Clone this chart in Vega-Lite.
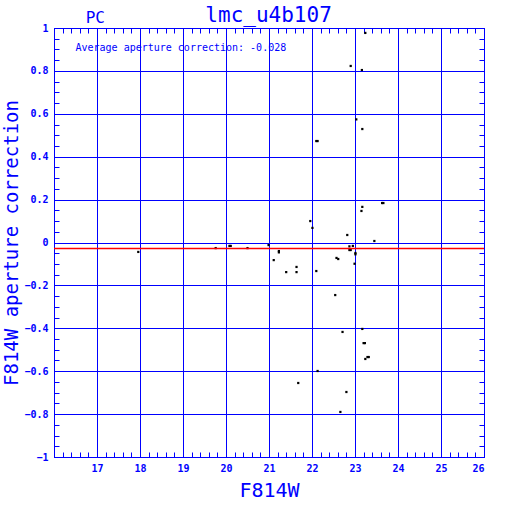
{
  "$schema": "https://vega.github.io/schema/vega-lite/v6.json",
  "width": 430,
  "height": 429,
  "autosize": "none",
  "padding": {"left": 54, "top": 28, "right": 28, "bottom": 55},
  "background": "white",
  "config": {
    "view": {"stroke": "#0000ff", "strokeWidth": 1},
    "axis": {"domainColor": "#0000ff", "tickColor": "#0000ff", "labelColor": "#0000ff", "titleColor": "#0000ff", "gridColor": "#0000ff", "gridOpacity": 1, "gridWidth": 1, "labelFont": "DejaVu Sans Mono", "labelFontWeight": "bold", "labelFontSize": 10, "titleFont": "DejaVu Sans Mono", "titleFontWeight": "normal", "titleFontSize": 20}
  },
  "layer": [
    {
      "data": {"values": [
        {"mag": 23.24, "corr": 0.977},
        {"mag": 22.90, "corr": 0.823},
        {"mag": 23.16, "corr": 0.804},
        {"mag": 23.03, "corr": 0.574},
        {"mag": 23.17, "corr": 0.529},
        {"mag": 22.10, "corr": 0.473},
        {"mag": 22.13, "corr": 0.473},
        {"mag": 23.63, "corr": 0.184},
        {"mag": 23.66, "corr": 0.184},
        {"mag": 23.17, "corr": 0.166},
        {"mag": 23.15, "corr": 0.147},
        {"mag": 21.96, "corr": 0.100},
        {"mag": 22.01, "corr": 0.068},
        {"mag": 22.82, "corr": 0.035},
        {"mag": 23.45, "corr": 0.007},
        {"mag": 20.99, "corr": -0.012},
        {"mag": 22.87, "corr": -0.018},
        {"mag": 22.95, "corr": -0.016},
        {"mag": 22.87, "corr": -0.035},
        {"mag": 22.90, "corr": -0.035},
        {"mag": 23.01, "corr": -0.049},
        {"mag": 23.01, "corr": -0.055},
        {"mag": 21.23, "corr": -0.040},
        {"mag": 21.23, "corr": -0.046},
        {"mag": 22.57, "corr": -0.072},
        {"mag": 22.61, "corr": -0.077},
        {"mag": 21.11, "corr": -0.082},
        {"mag": 22.99, "corr": -0.099},
        {"mag": 21.64, "corr": -0.114},
        {"mag": 21.64, "corr": -0.138},
        {"mag": 21.40, "corr": -0.138},
        {"mag": 22.10, "corr": -0.133},
        {"mag": 22.54, "corr": -0.245},
        {"mag": 23.17, "corr": -0.403},
        {"mag": 22.71, "corr": -0.417},
        {"mag": 23.20, "corr": -0.469},
        {"mag": 23.23, "corr": -0.469},
        {"mag": 23.29, "corr": -0.534},
        {"mag": 23.32, "corr": -0.534},
        {"mag": 23.24, "corr": -0.543},
        {"mag": 22.13, "corr": -0.599},
        {"mag": 21.68, "corr": -0.655},
        {"mag": 22.80, "corr": -0.697},
        {"mag": 22.66, "corr": -0.790},
        {"mag": 17.96, "corr": -0.044},
        {"mag": 19.76, "corr": -0.026},
        {"mag": 20.08, "corr": -0.016},
        {"mag": 20.11, "corr": -0.016},
        {"mag": 20.50, "corr": -0.026}
      ]},
      "mark": {"type": "square", "filled": true, "color": "black", "size": 5, "opacity": 1},
      "encoding": {
        "x": {"field": "mag", "type": "quantitative", "title": "F814W",
          "scale": {"domain": [16, 26], "nice": false, "zero": false},
          "axis": {"orient": "bottom",
            "values": [16, 16.2, 16.4, 16.6, 16.8, 17, 17.2, 17.4, 17.6, 17.8, 18, 18.2, 18.4, 18.6, 18.8, 19, 19.2, 19.4, 19.6, 19.8, 20, 20.2, 20.4, 20.6, 20.8, 21, 21.2, 21.4, 21.6, 21.8, 22, 22.2, 22.4, 22.6, 22.8, 23, 23.2, 23.4, 23.6, 23.8, 24, 24.2, 24.4, 24.6, 24.8, 25, 25.2, 25.4, 25.6, 25.8, 26],
            "tickSize": -5, "labelPadding": 11, "format": "~g",
            "labelExpr": "datum.value % 1 === 0 && datum.value > 16 ? datum.label : ''",
            "grid": true,
            "gridOpacity": {"condition": {"test": "datum.value % 1 === 0", "value": 1}, "value": 0},
            "titlePadding": 7}},
        "y": {"field": "corr", "type": "quantitative", "title": "F814W aperture correction",
          "scale": {"domain": [-1, 1], "nice": false, "zero": false},
          "axis": {"orient": "left",
            "values": [-1, -0.95, -0.9, -0.85, -0.8, -0.75, -0.7, -0.65, -0.6, -0.55, -0.5, -0.45, -0.4, -0.35, -0.3, -0.25, -0.2, -0.15, -0.1, -0.05, 0, 0.05, 0.1, 0.15, 0.2, 0.25, 0.3, 0.35, 0.4, 0.45, 0.5, 0.55, 0.6, 0.65, 0.7, 0.75, 0.8, 0.85, 0.9, 0.95, 1],
            "tickSize": -5, "labelPadding": 11, "format": "~g",
            "labelExpr": "abs(round(datum.value * 5) - datum.value * 5) < 1e-6 ? datum.label : ''",
            "grid": true,
            "gridOpacity": {"condition": {"test": "abs(round(datum.value * 5) - datum.value * 5) < 1e-6", "value": 1}, "value": 0},
            "titlePadding": 2, "titleFontSize": 19}}
      }
    },
    {
      "data": {"values": [{"avg": -0.028}]},
      "mark": {"type": "rule", "color": "#ff0000", "strokeWidth": 1.5},
      "encoding": {
        "y": {"field": "avg", "type": "quantitative",
          "scale": {"domain": [-1, 1], "nice": false, "zero": false},
          "axis": {"orient": "right", "title": null, "labels": false, "grid": false, "tickSize": -5,
            "values": [-0.95, -0.9, -0.85, -0.8, -0.75, -0.7, -0.65, -0.6, -0.55, -0.5, -0.45, -0.4, -0.35, -0.3, -0.25, -0.2, -0.15, -0.1, -0.05, 0, 0.05, 0.1, 0.15, 0.2, 0.25, 0.3, 0.35, 0.4, 0.45, 0.5, 0.55, 0.6, 0.65, 0.7, 0.75, 0.8, 0.85, 0.9, 0.95]}}
      }
    },
    {
      "data": {"values": [{"label": "Average aperture correction: -0.028"}]},
      "mark": {"type": "text", "font": "DejaVu Sans Mono", "fontSize": 10, "color": "#0000ff", "align": "left", "baseline": "middle"},
      "encoding": {
        "x": {"datum": 16.5, "type": "quantitative",
          "scale": {"domain": [16, 26], "nice": false, "zero": false},
          "axis": {"orient": "top", "title": null, "labels": false, "grid": false, "tickSize": -5,
            "values": [16.2, 16.4, 16.6, 16.8, 17, 17.2, 17.4, 17.6, 17.8, 18, 18.2, 18.4, 18.6, 18.8, 19, 19.2, 19.4, 19.6, 19.8, 20, 20.2, 20.4, 20.6, 20.8, 21, 21.2, 21.4, 21.6, 21.8, 22, 22.2, 22.4, 22.6, 22.8, 23, 23.2, 23.4, 23.6, 23.8, 24, 24.2, 24.4, 24.6, 24.8, 25, 25.2, 25.4, 25.6, 25.8]}},
        "y": {"datum": 0.905, "type": "quantitative", "axis": null},
        "text": {"field": "label"}
      }
    },
    {
      "data": {"values": [{"label": "PC"}]},
      "mark": {"type": "text", "font": "DejaVu Sans Mono", "fontSize": 16, "color": "#0000ff", "align": "center", "baseline": "alphabetic"},
      "encoding": {
        "x": {"datum": 16.96, "type": "quantitative", "axis": null},
        "y": {"datum": 1.022, "type": "quantitative", "axis": null},
        "text": {"field": "label"}
      }
    },
    {
      "data": {"values": [{"label": "lmc_u4b107"}]},
      "mark": {"type": "text", "font": "DejaVu Sans Mono", "fontSize": 21, "color": "#0000ff", "align": "center", "baseline": "alphabetic"},
      "encoding": {
        "x": {"datum": 20.99, "type": "quantitative", "axis": null},
        "y": {"datum": 1.03, "type": "quantitative", "axis": null},
        "text": {"field": "label"}
      }
    }
  ]
}
